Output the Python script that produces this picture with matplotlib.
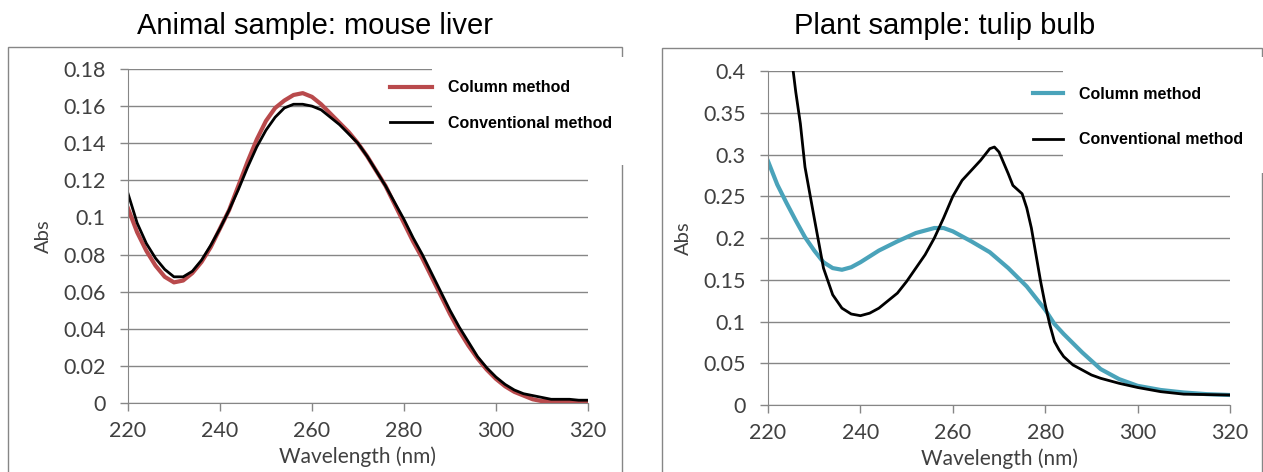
import numpy as np
import matplotlib
matplotlib.use("Agg")
import matplotlib.pyplot as plt
from matplotlib.patches import Rectangle

# wavelength grid (nm)
wl = [220, 222, 224, 226, 228, 230, 232, 234, 236, 238, 240, 242, 244, 246, 248,
      250, 252, 254, 256, 258, 260, 262, 264, 266, 268, 270, 272, 274, 276, 278,
      280, 282, 284, 286, 288, 290, 292, 294, 296, 298, 300, 302, 304, 306, 308,
      310, 312, 314, 316, 318, 320]

# mouse liver
liver_column = [0.105, 0.092, 0.082, 0.074, 0.068, 0.065, 0.066, 0.070, 0.076, 0.084,
                0.094, 0.104, 0.117, 0.130, 0.142, 0.152, 0.159, 0.163, 0.166, 0.167,
                0.165, 0.161, 0.156, 0.151, 0.146, 0.140, 0.133, 0.125, 0.117, 0.107,
                0.097, 0.087, 0.078, 0.068, 0.058, 0.048, 0.039, 0.031, 0.024, 0.018,
                0.013, 0.009, 0.006, 0.004, 0.002, 0.001, 0.001, 0.001, 0.0005, 0.0003,
                0.0003]
liver_conv = [0.113, 0.097, 0.086, 0.078, 0.072, 0.068, 0.068, 0.071, 0.077, 0.085,
              0.094, 0.104, 0.115, 0.127, 0.138, 0.147, 0.154, 0.159, 0.161, 0.161,
              0.160, 0.158, 0.154, 0.150, 0.145, 0.140, 0.133, 0.125, 0.117, 0.108,
              0.099, 0.089, 0.080, 0.070, 0.060, 0.050, 0.041, 0.033, 0.025, 0.019,
              0.014, 0.010, 0.007, 0.005, 0.004, 0.003, 0.002, 0.002, 0.002, 0.0015,
              0.0015]

# tulip bulb
wl_tc = [220, 222, 224, 226, 228, 230, 232, 234, 236, 238, 240, 244, 248, 252, 256,
         258, 260, 264, 268, 272, 276, 280, 282, 284, 288, 292, 296, 300, 305, 310,
         315, 320]
tulip_column = [0.292, 0.264, 0.242, 0.221, 0.201, 0.185, 0.171, 0.164, 0.162, 0.165,
                0.171, 0.185, 0.196, 0.206, 0.212, 0.212, 0.208, 0.196, 0.183, 0.164,
                0.142, 0.114, 0.097, 0.085, 0.063, 0.043, 0.031, 0.023, 0.018, 0.015,
                0.013, 0.012]
wl_tv = [224, 225, 226, 227, 228, 230, 232, 234, 236, 238, 240, 242, 244, 248, 250,
         252, 254, 256, 258, 260, 262, 264, 266, 268, 269, 270, 272, 273, 275, 276,
         277, 278, 279, 280, 281, 282, 283, 284, 286, 288, 290, 292, 294, 296, 300,
         305, 310, 320]
tulip_conv = [0.48, 0.42, 0.375, 0.337, 0.285, 0.224, 0.164, 0.132, 0.116, 0.109,
              0.107, 0.110, 0.116, 0.134, 0.148, 0.164, 0.180, 0.200, 0.224, 0.250,
              0.269, 0.281, 0.293, 0.307, 0.309, 0.303, 0.277, 0.263, 0.253, 0.236,
              0.212, 0.180, 0.148, 0.120, 0.096, 0.076, 0.066, 0.058, 0.048, 0.042,
              0.036, 0.032, 0.029, 0.026, 0.021, 0.016, 0.013, 0.012]

tick_font = "Lato"
grey = "#868686"

fig = plt.figure(figsize=(12.63, 4.72), dpi=100)
ax1 = fig.add_axes([0.1013, 0.1462, 0.3642, 0.7076])
ax2 = fig.add_axes([0.6081, 0.1419, 0.3658, 0.7076])

def style(ax, ymax, ystep, yfmt):
    ax.set_xlim(220, 320)
    ax.set_ylim(0, ymax)
    ax.set_xticks(np.arange(220, 321, 20))
    yt = np.arange(0, ymax + 1e-9, ystep)
    ax.set_yticks(yt)
    ax.set_yticklabels([yfmt(v) for v in yt])
    ax.grid(axis="y", color=grey, lw=1)
    ax.set_axisbelow(True)
    for s in ["top", "right"]:
        ax.spines[s].set_visible(False)
    for s in ["left", "bottom"]:
        ax.spines[s].set_color(grey)
    ax.tick_params(axis="x", length=6, width=1, color=grey, pad=7,
                   labelsize=15.5, labelcolor="#404040")
    ax.tick_params(axis="y", length=6, width=1, color=grey, pad=10,
                   labelsize=15.5, labelcolor="#404040")
    for lab in ax.get_xticklabels() + ax.get_yticklabels():
        lab.set_family(tick_font)
    ax.set_xlabel("Wavelength (nm)", family=tick_font, fontsize=15,
                  color="#404040", labelpad=4)
    ax.set_ylabel("Abs", family=tick_font, fontsize=14.5, color="#404040", labelpad=8)

def fmt(v):
    s = ("%.2f" % v).rstrip("0").rstrip(".")
    return s if s else "0"

style(ax1, 0.18, 0.02, fmt)
style(ax2, 0.4, 0.05, fmt)

ax1.plot(wl, liver_column, color="#b94a4c", lw=3, label="Column method",
         solid_joinstyle="round")
ax1.plot(wl, liver_conv, color="black", lw=2, label="Conventional method",
         solid_joinstyle="round")
ax2.plot(wl_tc, tulip_column, color="#4aa3ba", lw=3, label="Column method",
         solid_joinstyle="round")
ax2.plot(wl_tv, tulip_conv, color="black", lw=2, label="Conventional method",
         solid_joinstyle="round")

leg_font = {"family": "Liberation Sans", "weight": "bold", "size": 11.5}

# white boxes behind the legend text, covering gridlines and frame
ax1.add_patch(Rectangle((0.342, 0.6504), 0.16, 0.2288, transform=fig.transFigure,
                        facecolor="white", edgecolor="none", clip_on=False, zorder=4))
ax2.add_patch(Rectangle((0.8417, 0.6335), 0.16, 0.2458, transform=fig.transFigure,
                        facecolor="white", edgecolor="none", clip_on=False, zorder=4))

l1 = ax1.legend(loc="upper left", bbox_to_anchor=(0.3088, 0.830),
                bbox_transform=fig.transFigure, frameon=False, prop=leg_font,
                handlelength=2.65, handletextpad=1.0, labelspacing=1.3, borderpad=0,
                borderaxespad=0)
l1.set_zorder(5)
l2 = ax2.legend(loc="upper left", bbox_to_anchor=(0.8179, 0.816),
                bbox_transform=fig.transFigure, frameon=False, prop=leg_font,
                handlelength=1.85, handletextpad=1.05, labelspacing=1.9, borderpad=0,
                borderaxespad=0)
l2.set_zorder(5)

# outer frames of the two panels
fig.add_artist(Rectangle((0.00633, -0.05), 0.4861, 0.9504, transform=fig.transFigure,
                         facecolor="none", edgecolor=grey, lw=1, zorder=-1))
fig.add_artist(Rectangle((0.5241, -0.05), 0.4751, 0.9483, transform=fig.transFigure,
                         facecolor="none", edgecolor=grey, lw=1, zorder=-1))

title_font = {"family": "Liberation Sans", "size": 21}
fig.text(0.2494, 0.945, "Animal sample: mouse liver", ha="center", va="center", **title_font)
fig.text(0.7482, 0.945, "Plant sample: tulip bulb", ha="center", va="center", **title_font)

fig.savefig("out.png", dpi=100)
